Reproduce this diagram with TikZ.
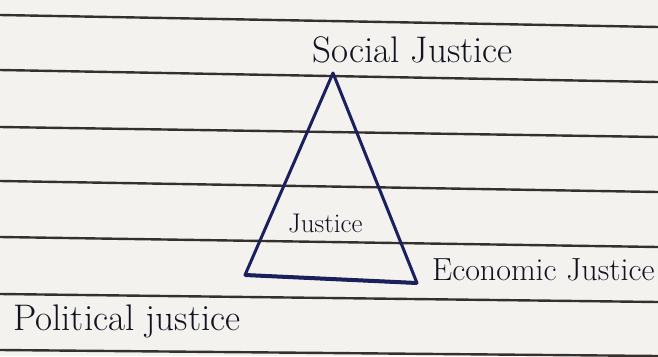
\documentclass[tikz,border=0pt]{standalone}
\usepackage{tikz}

\definecolor{paper}{HTML}{F4F2EF}
\definecolor{rule}{HTML}{35302C}
\definecolor{ink}{HTML}{1B1F5C}
\definecolor{pencil}{HTML}{111320}

\tikzset{
  ruling/.style={draw=rule, line width=2.4pt},
  hand/.style={text=pencil, anchor=base west, inner sep=0pt,
    font=\fontsize{37}{40}\selectfont},
  handmid/.style={hand, font=\fontsize{32}{36}\selectfont},
  handsmall/.style={hand, font=\fontsize{27}{30}\selectfont},
  sides/.style={draw=ink, line width=3pt, line join=round}
}

\begin{document}
\begin{tikzpicture}[x=1pt,y=-1pt]
\fill[paper] (0,0) rectangle (658,356);
\useasboundingbox (0,0) rectangle (658,356);

\foreach \ya/\yb in {15/27, 70/82, 127/137, 181/192, 237/247, 294/302, 350/356}
  \draw[ruling] (0,\ya) -- (658,\yb);

\coordinate (apex) at (333,73);
\coordinate (leftFoot) at (245,275);
\coordinate (rightFoot) at (417,283);

\draw[sides] (apex) -- (rightFoot) -- (leftFoot) -- cycle;
\draw[ink, line width=4pt] (leftFoot) -- (rightFoot);

\node (socialJustice) [hand] at (312,62) {Social Justice};
\node (justice) [handsmall] at (288,232) {Justice};
\node (economicJustice) [handmid] at (432,280) {Economic Justice};
\node (politicalJustice) [hand] at (13,330) {Political justice};
\end{tikzpicture}
\end{document}
